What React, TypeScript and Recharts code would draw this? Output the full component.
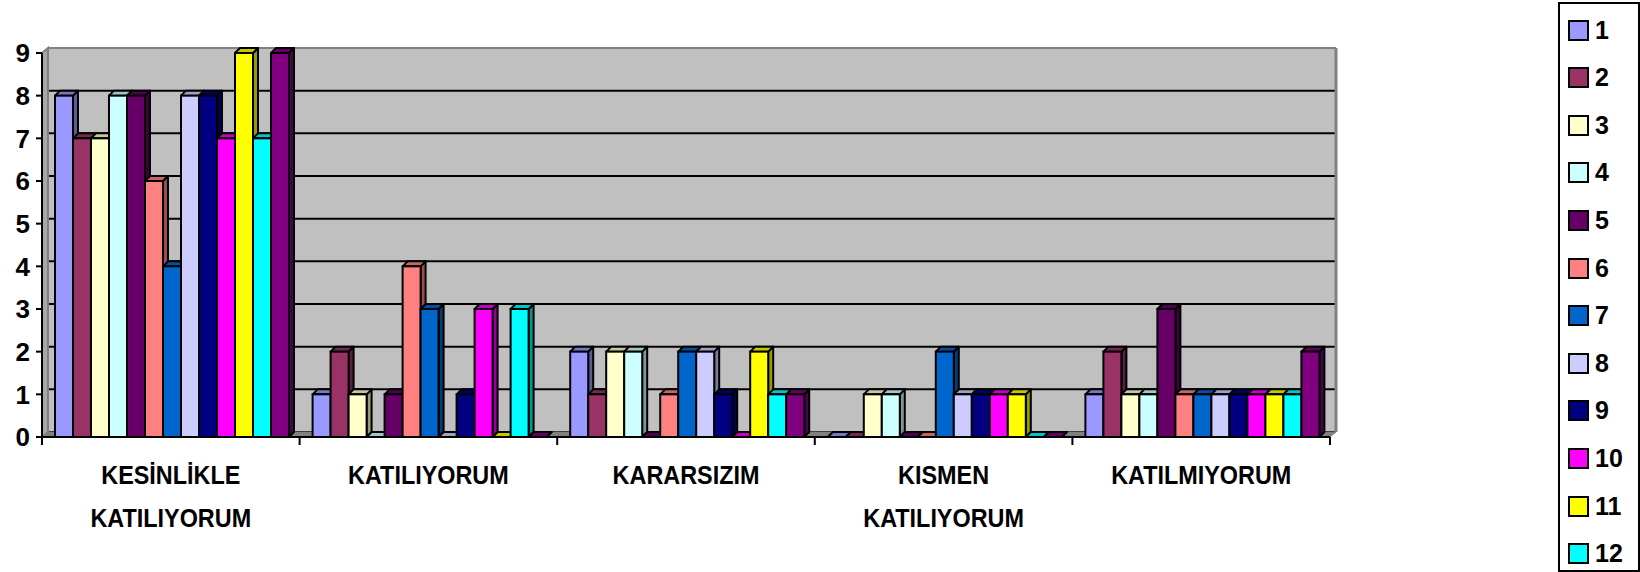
import React from "react";
import { BarChart, Bar, XAxis, YAxis, CartesianGrid } from "recharts";

// answers per category, one value per respondent group (1..13)
const categories = [
  "KESİNLİKLE KATILIYORUM",
  "KATILIYORUM",
  "KARARSIZIM",
  "KISMEN KATILIYORUM",
  "KATILMIYORUM",
];
const kesinlikle = [8, 7, 7, 8, 8, 6, 4, 8, 8, 7, 9, 7, 9];
const katiliyorum = [1, 2, 1, 0, 1, 4, 3, 0, 1, 3, 0, 3, 0];
const kararsizim = [2, 1, 2, 2, 0, 1, 2, 2, 1, 0, 2, 1, 1];
const kismen = [0, 0, 1, 1, 0, 0, 2, 1, 1, 1, 1, 0, 0];
const katilmiyorum = [1, 2, 1, 1, 3, 1, 1, 1, 1, 1, 1, 1, 2];
const seriesNames = ["1", "2", "3", "4", "5", "6", "7", "8", "9", "10", "11", "12", "13"];
const seriesColors = [
  "#9999FF", "#993366", "#FFFFCC", "#CCFFFF", "#660066", "#FF8080", "#0066CC",
  "#CCCCFF", "#000080", "#FF00FF", "#FFFF00", "#00FFFF", "#800080",
];
const yTicks = [0, 1, 2, 3, 4, 5, 6, 7, 8, 9];

const rows = [kesinlikle, katiliyorum, kararsizim, kismen, katilmiyorum];
const data = categories.map((name, ci) => {
  const row: Record<string, string | number> = { name };
  seriesNames.forEach((s, si) => (row["s" + s] = rows[ci][si]));
  return row;
});

const W = 1640;
const H = 572;
const PLOT_L = 42;
const PLOT_R = 1330;
const PLOT_T = 53;
const PLOT_B = 437;
const DX = 6; // wall depth
const DY = 5;
const BAR_D = 5; // bar depth
const BAND = (PLOT_R - PLOT_L) / categories.length;
const FONT = "'Liberation Sans', Arial, sans-serif";
const LEGEND_ROWS = 12; // the legend box only has room for 12 entries

function shade(hex: string, k: number) {
  const n = parseInt(hex.slice(1), 16);
  const r = Math.round(((n >> 16) & 255) * k);
  const g = Math.round(((n >> 8) & 255) * k);
  const b = Math.round((n & 255) * k);
  return `rgb(${r},${g},${b})`;
}

function Bar3D(props: any) {
  const { x, y, width, height, fill } = props;
  if (x == null || y == null) return null;
  const d = BAR_D;
  const h = Math.max(0, height || 0);
  return (
    <g>
      <polygon
        points={`${x + width},${y} ${x + width + d},${y - d} ${x + width + d},${y + h - d} ${x + width},${y + h}`}
        fill={shade(fill, 0.6)}
        stroke="#000"
        strokeWidth={2}
        strokeLinejoin="round"
      />
      <polygon
        points={`${x},${y} ${x + d},${y - d} ${x + width + d},${y - d} ${x + width},${y}`}
        fill={shade(fill, 0.78)}
        stroke="#000"
        strokeWidth={2}
        strokeLinejoin="round"
      />
      {h > 0 && <rect x={x} y={y} width={width} height={h} fill={fill} stroke="#000" strokeWidth={2} />}
    </g>
  );
}

function CatTick(props: any) {
  const { x, y, payload, index } = props;
  const lines = String(payload.value).split(" ");
  const half = BAND / 2;
  return (
    <g>
      <line x1={x - half} y1={y - 8} x2={x - half} y2={y} stroke="#000" strokeWidth={2} />
      {index === categories.length - 1 && (
        <line x1={x + half} y1={y - 8} x2={x + half} y2={y} stroke="#000" strokeWidth={2} />
      )}
      <g transform={`translate(${x},0) scale(0.9,1) translate(${-x},0)`}>
        <text x={x} y={y} textAnchor="middle" fontFamily={FONT} fontWeight="bold" fontSize={26} fill="#000">
          {lines.map((l, i) => (
            <tspan key={i} x={x} dy={i === 0 ? 39 : 43}>
              {l}
            </tspan>
          ))}
        </text>
      </g>
    </g>
  );
}

function GridLine(props: any) {
  const { x1, x2, y1 } = props;
  const top = Math.abs(y1 - PLOT_T) < 1;
  return (
    <line
      x1={x1}
      y1={y1 - DY}
      x2={x2}
      y2={y1 - DY}
      stroke={top ? "#808080" : "#000"}
      strokeWidth={2}
    />
  );
}

function WallSides() {
  return (
    <g>
      <polygon
        points={`${PLOT_L},${PLOT_T} ${PLOT_L + DX},${PLOT_T - DY} ${PLOT_L + DX},${PLOT_B - DY} ${PLOT_L},${PLOT_B}`}
        fill="#A8A8A8"
        stroke="#808080"
        strokeWidth={2}
      />
      <polygon
        points={`${PLOT_L},${PLOT_B} ${PLOT_L + DX},${PLOT_B - DY} ${PLOT_R + DX},${PLOT_B - DY} ${PLOT_R},${PLOT_B}`}
        fill="#808080"
        stroke="#808080"
        strokeWidth={1}
      />
      <line
        x1={PLOT_R + DX}
        y1={PLOT_T - DY}
        x2={PLOT_R + DX}
        y2={PLOT_B - DY}
        stroke="#808080"
        strokeWidth={3}
      />
    </g>
  );
}

function Legend12() {
  return (
    <div
      style={{
        position: "absolute",
        left: 1558,
        top: 2,
        width: 78,
        height: 566,
        border: "2px solid #000",
        overflow: "hidden",
        background: "#fff",
      }}
    >
      {seriesNames.slice(0, LEGEND_ROWS).map((s, i) => (
        <div
          key={s}
          style={{
            position: "absolute",
            left: 8,
            top: 26 + i * 47.6 - 14,
            height: 28,
            display: "flex",
            alignItems: "center",
            fontFamily: FONT,
            fontWeight: "bold",
            fontSize: 25,
          }}
        >
          <span
            style={{
              width: 17,
              height: 17,
              border: "2px solid #000",
              background: seriesColors[i],
              marginRight: 6,
            }}
          />
          <span>{s}</span>
        </div>
      ))}
    </div>
  );
}

export default function App() {
  return (
    <div style={{ position: "fixed", left: 0, top: 0, width: W, height: H, background: "#fff" }}>
      <BarChart
        width={W}
        height={H}
        data={data}
        margin={{ top: PLOT_T, right: W - PLOT_R, bottom: 0, left: 0 }}
        barCategoryGap={13}
        barGap={0}
      >
        <CartesianGrid
          x={PLOT_L + DX}
          y={PLOT_T - DY}
          width={PLOT_R - PLOT_L}
          height={PLOT_B - PLOT_T}
          vertical={false}
          horizontal={GridLine}
          fill="#C0C0C0"
          fillOpacity={1}
          stroke="#000"
        />
        <WallSides />
        <XAxis
          dataKey="name"
          height={H - PLOT_B}
          interval={0}
          tickLine={false}
          tickSize={8}
          tickMargin={0}
          axisLine={{ stroke: "#000", strokeWidth: 2 }}
          tick={<CatTick />}
        />
        <YAxis
          width={PLOT_L}
          domain={[0, 9]}
          ticks={yTicks}
          interval={0}
          tickSize={6}
          tickMargin={6}
          axisLine={{ stroke: "#000", strokeWidth: 2 }}
          tickLine={{ stroke: "#000", strokeWidth: 2 }}
          tick={{ fill: "#000", fontSize: 26, fontWeight: "bold", fontFamily: FONT }}
        />
        {seriesNames.map((s, i) => (
          <Bar
            key={s}
            dataKey={"s" + s}
            name={s}
            fill={seriesColors[i]}
            shape={Bar3D}
            isAnimationActive={false}
          />
        ))}
      </BarChart>
      <Legend12 />
    </div>
  );
}
